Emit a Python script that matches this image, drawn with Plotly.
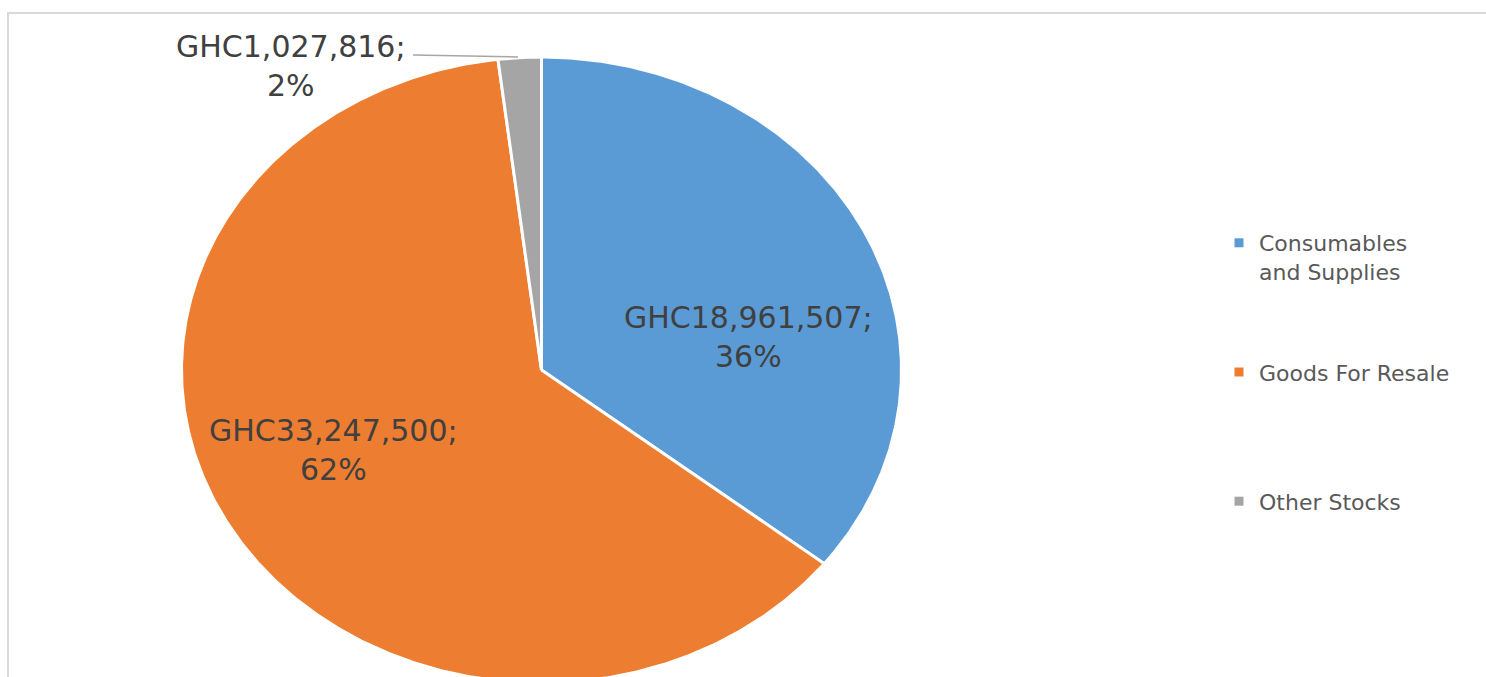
import numpy as np
import plotly.graph_objects as go

# Stock holdings by category (GHC)
categories = ["Consumables and Supplies", "Goods For Resale", "Other Stocks"]
legend_names = ["Consumables<br>and Supplies", "Goods For Resale<br>\u00a0", "Other Stocks"]
values = [18961507, 33247500, 1027816]
colors = ["#5B9BD5", "#ED7D31", "#A5A5A5"]

W, H = 1486, 677
# pie centre (px) and radii (px): the chart area is stretched horizontally
CX, CY, RX, RY = 541.5, 370.0, 360.0, 313.0

total = float(sum(values))
fractions = [v / total for v in values]

fig = go.Figure()

# slices drawn clockwise from 12 o'clock on a unit circle; axis ranges set the ellipse
start = 0.0
for name, frac, col in zip(categories, fractions, colors):
    theta = np.linspace(start, start + frac, max(4, int(frac * 720))) * 2 * np.pi
    xs = np.concatenate([[0.0], np.sin(theta), [0.0]])
    ys = np.concatenate([[0.0], np.cos(theta), [0.0]])
    fig.add_trace(go.Scatter(
        x=xs, y=ys, mode="lines", fill="toself", fillcolor=col,
        line=dict(color="white", width=3), name=name,
        showlegend=False, hoverinfo="name",
    ))
    start += frac

# legend entries
for i, (nm, col) in enumerate(zip(legend_names, colors)):
    fig.add_trace(go.Scatter(
        x=[None], y=[None], mode="markers", name=nm,
        marker=dict(symbol="square", size=9, color=col),
        legendgroup=f"g{i}",
    ))

def label(v, f):
    return f"GHC{v:,};<br>{round(f * 100):.0f}%"

label_font = dict(family="DejaVu Sans", size=30, color="#404040")

# data labels (positions in px)
label_pos = [(748, 337), (333, 450), (291, 66)]
for v, f, (px, py) in zip(values, fractions, label_pos):
    fig.add_annotation(
        x=(px - CX) / RX, y=(CY - py) / RY, xref="x", yref="y",
        text=label(v, f), showarrow=False, font=label_font, align="center",
    )

# leader line for the small slice
fig.add_shape(type="line", xref="x", yref="y",
              x0=(413 - CX) / RX, y0=(CY - 55) / RY,
              x1=(518 - CX) / RX, y1=(CY - 57) / RY,
              line=dict(color="#A6A6A6", width=1.5))

# chart-area frame
fig.add_shape(type="rect", xref="paper", yref="paper",
              x0=8 / W, y0=-0.05, x1=1.05, y1=1 - 13 / H,
              line=dict(color="#D9D9D9", width=2), fillcolor="rgba(0,0,0,0)")

fig.update_xaxes(range=[-CX / RX, (W - CX) / RX], visible=False, fixedrange=True)
fig.update_yaxes(range=[-(H - CY) / RY, CY / RY], visible=False, fixedrange=True)

fig.update_layout(
    width=W, height=H,
    margin=dict(l=0, r=0, t=0, b=0),
    paper_bgcolor="white", plot_bgcolor="white",
    showlegend=True,
    legend=dict(
        x=1219 / W, y=1 - 222 / H, xanchor="left", yanchor="top",
        font=dict(family="DejaVu Sans", size=22, color="#595959"),
        valign="top", traceorder="grouped", tracegroupgap=69,
        bgcolor="rgba(0,0,0,0)", itemclick=False, itemdoubleclick=False,
    ),
)

fig.write_html("out.html")
